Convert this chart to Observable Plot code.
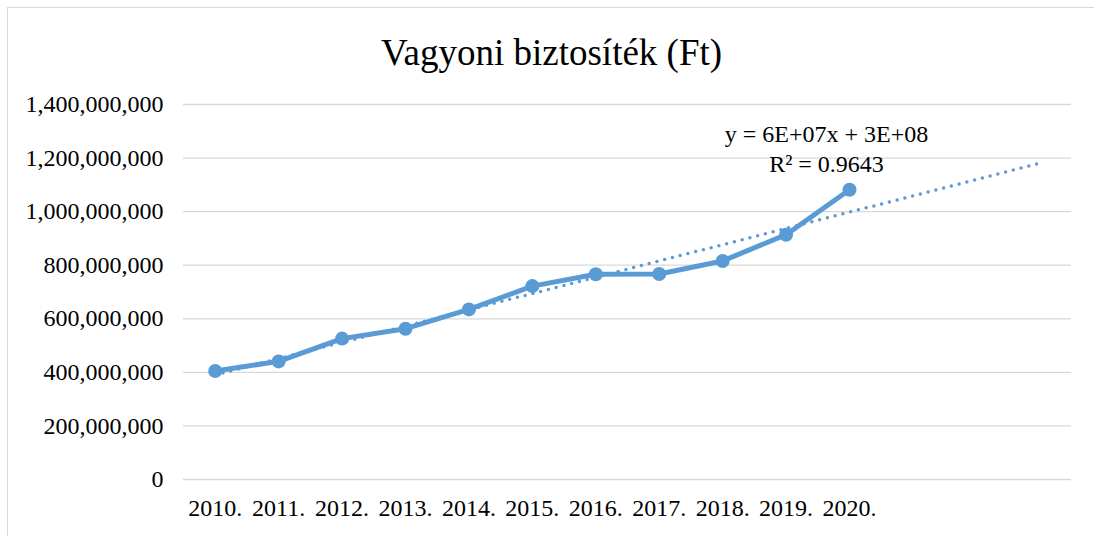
<!DOCTYPE html>
<html>
<head>
<meta charset="utf-8">
<script src="https://cdn.jsdelivr.net/npm/d3@7"></script>
<script src="https://cdn.jsdelivr.net/npm/@observablehq/plot@0.6"></script>
<style>
  html, body { margin: 0; padding: 0; background: #fff; overflow: hidden; }
  #wrap { position: relative; width: 1094px; height: 536px; font-family: "Liberation Serif", "Times New Roman", serif; }
  #frame { position: absolute; left: 7px; top: 7px; width: 1200px; height: 700px; border-left: 1.5px solid #d9d9d9; border-top: 1.5px solid #d9d9d9; }
  #title { position: absolute; left: 0; width: 1103px; top: 34px; text-align: center; font-size: 37px; line-height: 37px; color: #000; white-space: nowrap; }
  #chart { position: absolute; left: 0; top: 0; }
  #chart svg, #chart svg text { font-family: "Liberation Serif", "Times New Roman", serif !important; }
</style>
</head>
<body>
<div id="wrap">
  <div id="frame"></div>
  <div id="title">Vagyoni biztosíték (Ft)</div>
  <div id="chart"></div>
</div>
<script>
const years = ["2010.", "2011.", "2012.", "2013.", "2014.", "2015.", "2016.", "2017.", "2018.", "2019.", "2020."];
const values = [405e6, 441e6, 526e6, 563e6, 635e6, 722e6, 766e6, 767e6, 816e6, 914e6, 1082e6];
const yTicks = [0, 2e8, 4e8, 6e8, 8e8, 1e9, 1.2e9, 1.4e9];
const trendForward = 3;
const equationLines = ["y = 6E+07x + 3E+08", "R² = 0.9643"];

const data = years.map((label, i) => ({idx: i + 1, label, value: values[i]}));

// least-squares linear trendline (as in the spreadsheet), extended forward
const n = data.length;
const mx = d3.mean(data, d => d.idx);
const my = d3.mean(data, d => d.value);
const sxy = d3.sum(data, d => (d.idx - mx) * (d.value - my));
const sxx = d3.sum(data, d => (d.idx - mx) ** 2);
const slope = sxy / sxx;
const intercept = my - slope * mx;
const trend = [1, n + trendForward].map(x => ({idx: x, value: intercept + slope * x}));

const blue = "#5b9bd5";
const fmt = d3.format(",");
const serif = "Liberation Serif, Times New Roman, serif";

const chart = Plot.plot({
  width: 1094,
  height: 536,
  marginLeft: 183,
  marginRight: 23,
  marginTop: 104,
  marginBottom: 57,
  style: {fontFamily: serif, fontSize: "24px", color: "#000", background: "transparent", overflow: "visible"},
  x: {domain: [0.5, n + trendForward + 0.5], axis: null},
  y: {domain: [0, 1.4e9], axis: null},
  marks: [
    Plot.ruleY(yTicks, {stroke: "#d9d9d9", strokeWidth: 1.3}),
    Plot.axisY({ticks: yTicks, tickSize: 0, tickPadding: 20, tickFormat: fmt, fontSize: 24, fill: "#000", label: null}),
    Plot.axisX({ticks: data.map(d => d.idx), tickSize: 0, tickPadding: 19, tickFormat: i => years[i - 1], fontSize: 24, fill: "#000", label: null}),
    Plot.line(data, {x: "idx", y: "value", stroke: blue, strokeWidth: 5, strokeLinejoin: "round"}),
    Plot.dot(data, {x: "idx", y: "value", r: 7, fill: blue, stroke: "none"}),
    Plot.line(trend, {x: "idx", y: "value", stroke: blue, strokeWidth: 3.5, strokeDasharray: "0,8", strokeLinecap: "round"}),
    Plot.text([equationLines.join("\n")], {frameAnchor: "top", dx: 199, dy: 17, lineAnchor: "top", lineHeight: 1.22, fontSize: 24, fontFamily: serif, fill: "#000", textAnchor: "middle"})
  ]
});
document.getElementById("chart").appendChild(chart);
</script>
</body>
</html>
